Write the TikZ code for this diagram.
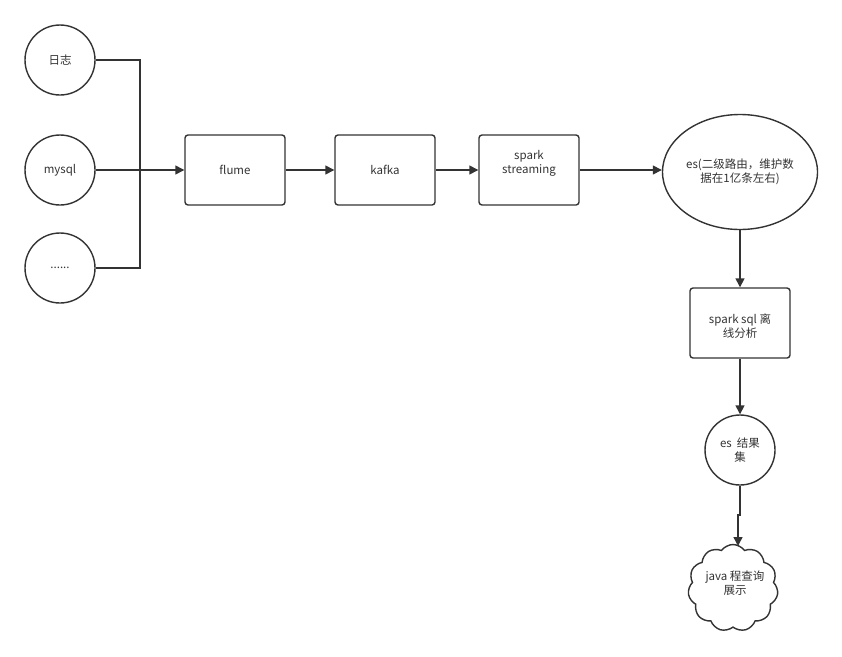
\documentclass[tikz,border=0pt]{standalone}
\usepackage{fontspec}
\setmainfont{Noto Sans CJK SC}
\usetikzlibrary{arrows.meta,shapes.geometric,shapes.symbols}
\definecolor{ln}{HTML}{333333}
\begin{document}
\begin{tikzpicture}[x=1pt,y=-1pt,
  base/.style={draw=ln,line width=1.4pt,text=ln,font=\fontsize{11.5}{14}\selectfont,align=center,inner sep=1pt},
  circ/.style={base,circle,minimum size=70pt},
  box/.style={base,rectangle,rounded corners=3pt,minimum width=100pt,minimum height=70pt},
  conn/.style={draw=ln,line width=1.4pt,-{Triangle[length=9pt,width=9pt]}},
  plain/.style={draw=ln,line width=1.4pt}]
\useasboundingbox (0,0) rectangle (842,656);
\node[circ] (log) at (60,60) {日志};
\node[circ] (mysql) at (60,170) {mysql};
\node[circ] (etc) at (60,268) {......};
\node[box] (flume) at (235,170) {flume};
\node[box] (kafka) at (385,170) {kafka};
\node[box] (spark) at (529,170) {};
\node[text=ln,font=\fontsize{11.5}{14}\selectfont,align=center] (sparktxt) at (529,163) {spark\\streaming};
\node[base,ellipse,minimum width=155pt,minimum height=115pt] (es) at (740,172) {};
\node[text=ln,font=\fontsize{11.5}{14}\selectfont,align=center] (estxt) at (740,172) {es(二级路由，维护数\\据在1亿条左右)};
\node[box] (sql) at (740,323) {};
\node[text=ln,font=\fontsize{11.5}{14}\selectfont,align=center] (sqltxt) at (740,326) {spark sql 离\\线分析};
\node[circ] (res) at (740,450) {};
\node[text=ln,font=\fontsize{11.5}{14}\selectfont,align=center] (restxt) at (740,450) {es\ \ 结果\\集};
\node[base,cloud,cloud puffs=11,cloud puff arc=110,aspect=1,minimum width=90pt,minimum height=87pt] (java) at (733,588) {};
\node[text=ln,font=\fontsize{11.5}{14}\selectfont,align=center] (javatxt) at (735,583) {java 程查询\\展示};
\coordinate (j1) at (740,515);
\coordinate (j2) at (738,515);
\coordinate (jt) at (738,546);
\draw[plain] (log.east) -| (140,170);
\draw[plain] (etc.east) -| (140,170);
\draw[conn] (mysql.east) -- (flume.west);
\draw[conn] (flume.east) -- (kafka.west);
\draw[conn] (kafka.east) -- (spark.west);
\draw[conn] (spark.east) -- (es.west |- spark.east);
\draw[conn] (es.south) -- (sql.north);
\draw[conn] (sql.south) -- (res.north);
\draw[conn] (res.south) -- (j1) -- (j2) -- (jt);
\end{tikzpicture}
\end{document}
